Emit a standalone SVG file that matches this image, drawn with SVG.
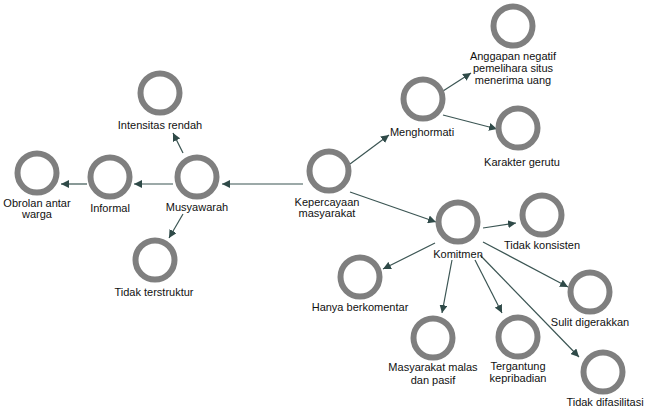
<svg xmlns="http://www.w3.org/2000/svg" width="647" height="409" viewBox="0 0 647 409">
<style>
.n circle{fill:none;stroke:#7f7f7f;stroke-width:6}
text{font-family:"Liberation Sans",Arial,sans-serif;font-size:11px;fill:#111;text-anchor:middle}
.e line{stroke:#3b5553;stroke-width:1.2;marker-end:url(#ah)}
</style>
<defs>
<marker id="ah" markerUnits="userSpaceOnUse" markerWidth="9" markerHeight="8" refX="8" refY="4" orient="auto">
<path d="M0,0 L8,4 L0,8 Z" fill="#2f4a48"/>
</marker>
</defs>
<rect width="647" height="409" fill="#fff"/>
<g id="connectors" class="e">
<line x1="350" y1="164" x2="389" y2="135"/>
<line x1="443" y1="91" x2="471" y2="73"/>
<line x1="443" y1="115" x2="497" y2="129"/>
<line x1="303" y1="184" x2="222" y2="184"/>
<line x1="173" y1="184" x2="134" y2="184"/>
<line x1="87" y1="184" x2="61" y2="184"/>
<line x1="183" y1="153" x2="173" y2="133"/>
<line x1="183" y1="214" x2="169" y2="238"/>
<line x1="350" y1="192" x2="436" y2="222"/>
<line x1="483" y1="228" x2="516" y2="223"/>
<line x1="435" y1="243" x2="383" y2="269"/>
<line x1="452" y1="260" x2="442" y2="313"/>
<line x1="475" y1="260" x2="502" y2="313"/>
<line x1="483" y1="242" x2="568" y2="287"/>
<line x1="480" y1="255" x2="579" y2="357"/>
</g>
<g id="anggapan" class="n"><circle cx="513" cy="26" r="19.5"/><text x="513" y="60">Anggapan negatif</text><text x="513" y="72">pemelihara situs</text><text x="513" y="84">menerima uang</text></g>
<g id="menghormati" class="n"><circle cx="423" cy="99" r="19.5"/><text x="422" y="136">Menghormati</text></g>
<g id="karakter" class="n"><circle cx="518" cy="128" r="19.5"/><text x="522" y="166">Karakter gerutu</text></g>
<g id="intensitas" class="n"><circle cx="160" cy="93" r="19.5"/><text x="160" y="129">Intensitas rendah</text></g>
<g id="obrolan" class="n"><circle cx="37" cy="173" r="19.5"/><text x="37" y="207">Obrolan antar</text><text x="37" y="218">warga</text></g>
<g id="informal" class="n"><circle cx="110" cy="177" r="19.5"/><text x="110" y="212">Informal</text></g>
<g id="musyawarah" class="n"><circle cx="197" cy="177" r="19.5"/><text x="197" y="211">Musyawarah</text></g>
<g id="tidak-terstruktur" class="n"><circle cx="155" cy="260" r="19.5"/><text x="154" y="296">Tidak terstruktur</text></g>
<g id="kepercayaan" class="n"><circle cx="329" cy="171" r="19.5"/><text x="327" y="206">Kepercayaan</text><text x="327" y="217">masyarakat</text></g>
<g id="komitmen" class="n"><circle cx="458" cy="222" r="19.5"/><text x="458" y="258">Komitmen</text></g>
<g id="tidak-konsisten" class="n"><circle cx="542" cy="215" r="19.5"/><text x="542" y="249">Tidak konsisten</text></g>
<g id="hanya-berkomentar" class="n"><circle cx="360" cy="277" r="19.5"/><text x="360" y="311">Hanya berkomentar</text></g>
<g id="masyarakat-malas" class="n"><circle cx="433" cy="338" r="19.5"/><text x="433" y="371">Masyarakat malas</text><text x="433" y="384">dan pasif</text></g>
<g id="tergantung" class="n"><circle cx="518" cy="337" r="19.5"/><text x="518" y="370">Tergantung</text><text x="518" y="382">kepribadian</text></g>
<g id="sulit" class="n"><circle cx="590" cy="292" r="19.5"/><text x="590" y="326">Sulit digerakkan</text></g>
<g id="tidak-difasilitasi" class="n"><circle cx="603" cy="372" r="19.5"/><text x="605" y="406">Tidak difasilitasi</text></g>
</svg>
